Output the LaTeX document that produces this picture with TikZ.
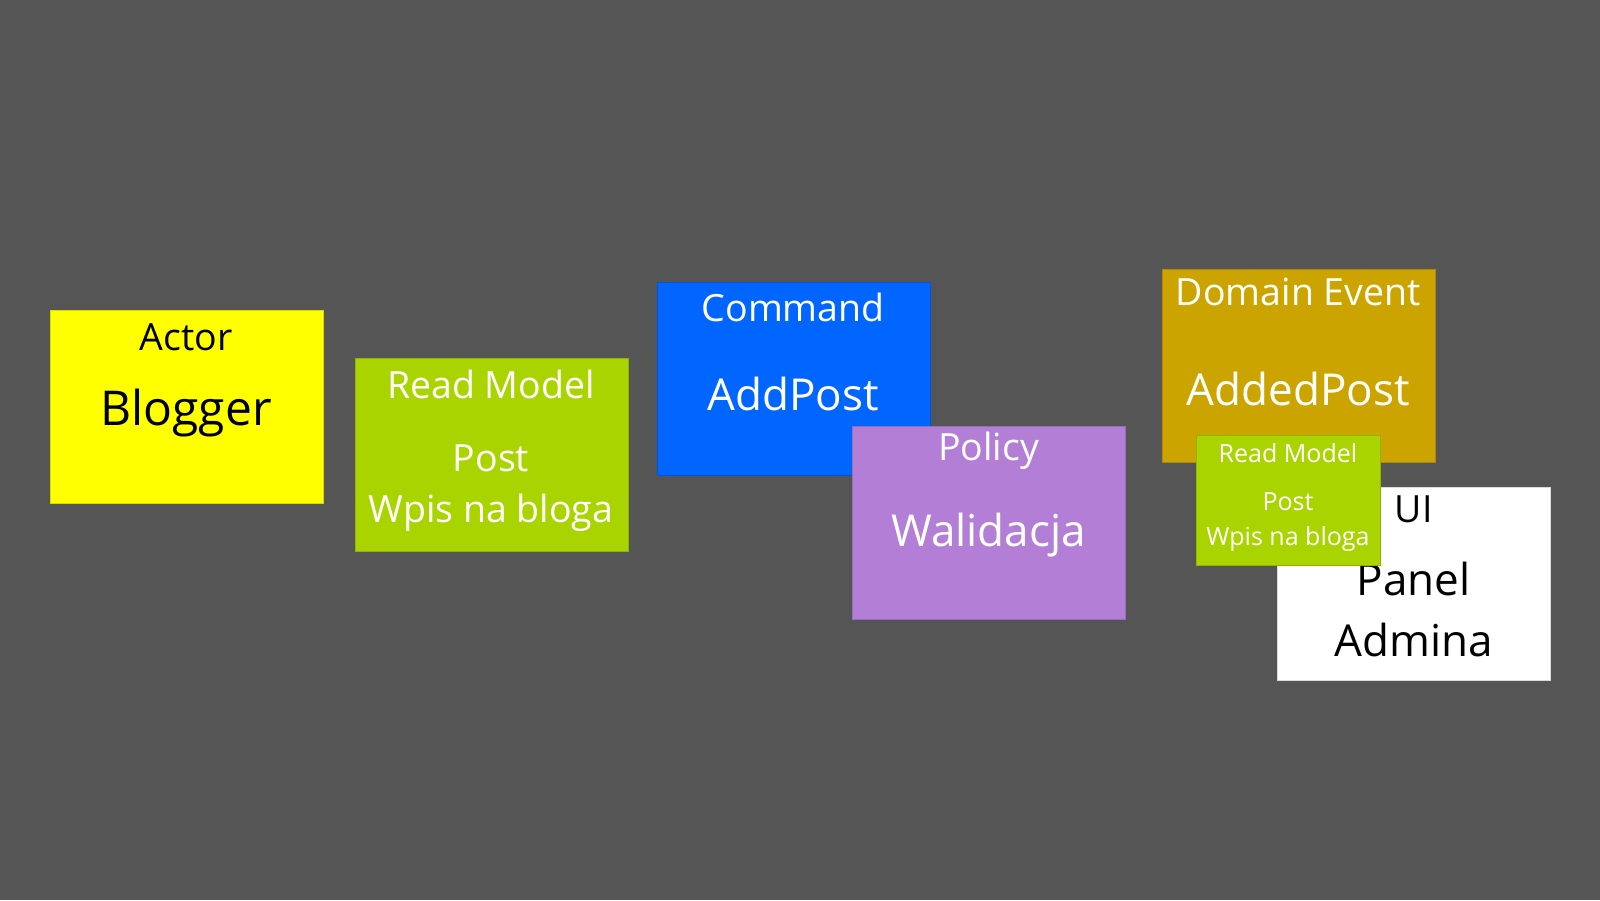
\documentclass[tikz,border=0pt]{standalone}
\usepackage{fontspec}
\setmainfont{Open Sans}
\definecolor{bg}{HTML}{555555}
\definecolor{actorc}{HTML}{FFFF00}
\definecolor{readc}{HTML}{AAD400}
\definecolor{cmdc}{HTML}{0066FF}
\definecolor{polc}{HTML}{B37FD6}
\definecolor{evc}{HTML}{CCA400}
\definecolor{uic}{HTML}{FFFFFF}
\tikzset{
  sticky/.style={rectangle, inner sep=0pt, minimum width=273pt, minimum height=193pt,
    anchor=north west, fill=#1, draw=#1!85!black, line width=0.8pt},
  smallsticky/.style={rectangle, inner sep=0pt, minimum width=184pt, minimum height=130pt,
    anchor=north west, fill=#1, draw=#1!85!black, line width=0.8pt},
  lbl/.style={anchor=base, inner sep=0pt, font=\fontsize{37.5}{41}\selectfont},
  big/.style={anchor=base, inner sep=0pt, font=\fontsize{44}{48}\selectfont},
  bigger/.style={anchor=base, inner sep=0pt, font=\fontsize{48}{52}\selectfont},
  tiny/.style={anchor=base, inner sep=0pt, font=\fontsize{25}{28}\selectfont}
}
\begin{document}
\begin{tikzpicture}[x=1pt, y=-1pt]
\useasboundingbox (0,0) rectangle (1600,900);
\fill[bg] (0,0) rectangle (1600,900);

% Actor
\node[sticky=actorc] (actor) at (50,310) {};
\node[lbl, text=black] (actorT) at (186,350) {Actor};
\node[bigger, text=black] (actorN) at (186,425.5) {Blogger};

% Read Model
\node[sticky=readc] (rm) at (354.5,358.3) {};
\node[lbl, text=white] (rmT) at (491,398.5) {Read Model};
\node[lbl, text=white] (rmN1) at (491,471.5) {Post};
\node[lbl, text=white] (rmN2) at (491,522) {Wpis na bloga};

% Command
\node[sticky=cmdc] (cmd) at (656.7,281.7) {};
\node[lbl, text=white] (cmdT) at (793.2,321.7) {Command};
\node[big, text=white] (cmdN) at (793.2,410) {AddPost};

% Policy
\node[sticky=polc] (pol) at (852,426) {};
\node[lbl, text=white] (polT) at (988.5,460) {Policy};
\node[big, text=white] (polN) at (988.5,546) {Walidacja};

% Domain Event
\node[sticky=evc] (ev) at (1162,269.3) {};
\node[lbl, text=white] (evT) at (1298.4,305.7) {Domain Event};
\node[big, text=white] (evN) at (1298.4,405.3) {AddedPost};

% UI
\node[sticky=uic] (ui) at (1277.3,486.7) {};
\node[lbl, text=black] (uiT) at (1413.7,522.7) {UI};
\node[big, text=black] (uiN1) at (1413.7,595) {Panel};
\node[big, text=black] (uiN2) at (1413.7,656) {Admina};

% small Read Model
\node[smallsticky=readc] (srm) at (1196,434.7) {};
\node[tiny, text=white] (srmT) at (1288,462) {Read Model};
\node[tiny, text=white] (srmN1) at (1288,510.7) {Post};
\node[tiny, text=white] (srmN2) at (1288,545.7) {Wpis na bloga};
\end{tikzpicture}
\end{document}
